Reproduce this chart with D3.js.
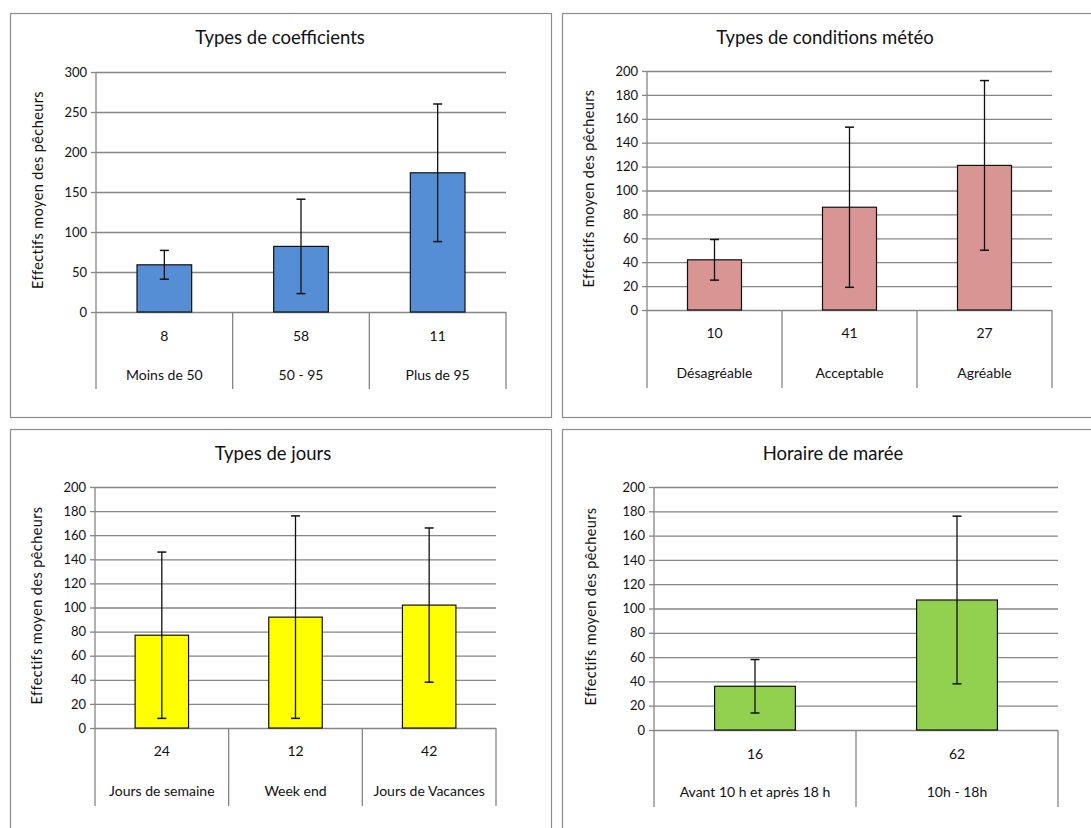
<!DOCTYPE html>
<html>
<head>
<meta charset="utf-8">
<script src="https://cdn.jsdelivr.net/npm/d3@7"></script>
<style>
  body { margin: 0; background: #fff; overflow: hidden; }
  text { font-family: Lato, "Open Sans", sans-serif; fill: #111; }
</style>
</head>
<body>
<script>
// données
var coefCategories = ["Moins de 50", "50 - 95", "Plus de 95"];
var coefCounts = [8, 58, 11];
var coefMeans = [59, 82, 174];
var coefErrors = [18, 59, 86];

var meteoCategories = ["Désagréable", "Acceptable", "Agréable"];
var meteoCounts = [10, 41, 27];
var meteoMeans = [42, 86, 121];
var meteoErrors = [17, 67, 71];

var joursCategories = ["Jours de semaine", "Week end", "Jours de Vacances"];
var joursCounts = [24, 12, 42];
var joursMeans = [77, 92, 102];
var joursErrors = [69, 84, 64];

var mareeCategories = ["Avant 10 h et après 18 h", "10h - 18h"];
var mareeCounts = [16, 62];
var mareeMeans = [36, 107];
var mareeErrors = [22, 69];

var chartTitles = ["Types de coefficients", "Types de conditions météo", "Types de jours", "Horaire de marée"];
var yMaxes = [300, 200, 200, 200];
var yTickSteps = [50, 20, 20, 20];
var yLabel = "Effectifs moyen des pêcheurs";

var W = 1091, H = 828;
var svg = d3.select("body").append("svg")
  .attr("width", W)
  .attr("height", H);

// mise en page des 4 panneaux (les cadres de droite et du bas sortent de l'image)
var panels = [
  {cats: coefCategories, counts: coefCounts, means: coefMeans, errs: coefErrors, color: "#558ed5",
   box: [10, 13, 541, 404], left: 96, right: 506, top: 72, bottom: 312, boxBottom: 389,
   titleX: 280, titleY: 39, axisX: 39, numY: 337, nameY: 376},
  {cats: meteoCategories, counts: meteoCounts, means: meteoMeans, errs: meteoErrors, color: "#d99594",
   box: [562, 13, 560, 404], left: 647, right: 1052, top: 71, bottom: 310, boxBottom: 388,
   titleX: 825, titleY: 39, axisX: 590, numY: 334, nameY: 374},
  {cats: joursCategories, counts: joursCounts, means: joursMeans, errs: joursErrors, color: "#ffff00",
   box: [10, 429, 541, 420], left: 95, right: 496, top: 487, bottom: 728, boxBottom: 806,
   titleX: 273, titleY: 455, axisX: 38, numY: 752, nameY: 792},
  {cats: mareeCategories, counts: mareeCounts, means: mareeMeans, errs: mareeErrors, color: "#92d050",
   box: [562, 429, 560, 420], left: 654, right: 1058, top: 487, bottom: 730, boxBottom: 807,
   titleX: 833, titleY: 455, axisX: 592, numY: 755, nameY: 793}
];

var grid = "#868686";

panels.forEach(function(p, k) {
  var g = svg.append("g");

  g.append("rect")
    .attr("x", p.box[0] + 0.5).attr("y", p.box[1] + 0.5)
    .attr("width", p.box[2]).attr("height", p.box[3])
    .attr("fill", "#fff").attr("stroke", "#8c8c8c").attr("stroke-width", 1.2);

  g.append("text")
    .attr("x", p.titleX)
    .attr("y", p.titleY)
    .attr("text-anchor", "middle")
    .attr("dominant-baseline", "middle")
    .style("font-size", "18.5px")
    .text(chartTitles[k]);

  var y = d3.scaleLinear().domain([0, yMaxes[k]]).range([p.bottom, p.top]);
  var x = d3.scaleBand().domain(p.cats).range([p.left, p.right]).padding(0);
  var ticks = d3.range(0, yMaxes[k] + 1, yTickSteps[k]);

  // grille + axe y
  var yAxis = d3.axisLeft(y)
    .tickValues(ticks)
    .tickSize(-(p.right - p.left))
    .tickPadding(9)
    .tickFormat(d3.format("d"));
  var ya = g.append("g")
    .attr("transform", "translate(" + p.left + ",0)")
    .call(yAxis);
  ya.select(".domain").remove();
  ya.selectAll(".tick line").attr("stroke", grid).attr("stroke-width", 1.3);
  ya.selectAll(".tick").append("line")
    .attr("x1", -5).attr("x2", 0).attr("stroke", grid).attr("stroke-width", 1.3);
  ya.selectAll(".tick text")
    .style("font-size", "13px")
    .style("font-family", "Lato, sans-serif")
    .attr("fill", "#111");

  // ligne verticale de l'axe et séparateurs de catégories
  g.append("line")
    .attr("x1", p.left).attr("x2", p.left)
    .attr("y1", p.top).attr("y2", p.boxBottom)
    .attr("stroke", grid).attr("stroke-width", 1.3);
  g.selectAll("line.sep").data(p.cats).enter().append("line")
    .attr("class", "sep")
    .attr("x1", function(d) { return x(d) + x.bandwidth(); })
    .attr("x2", function(d) { return x(d) + x.bandwidth(); })
    .attr("y1", p.bottom).attr("y2", p.boxBottom)
    .attr("stroke", grid).attr("stroke-width", 1.3);

  var bw = x.bandwidth() * 0.4;

  g.selectAll("rect.bar").data(p.means).enter().append("rect")
    .attr("class", "bar")
    .attr("x", function(d, i) { return x(p.cats[i]) + x.bandwidth() / 2 - bw / 2; })
    .attr("y", function(d) { return y(d); })
    .attr("width", bw)
    .attr("height", function(d) { return p.bottom - y(d); })
    .attr("fill", p.color)
    .attr("stroke", "#111")
    .attr("stroke-width", 1.2);

  // barres d'erreur
  var eg = g.selectAll("g.err").data(p.means).enter().append("g").attr("class", "err");
  eg.append("line")
    .attr("x1", function(d, i) { return x(p.cats[i]) + x.bandwidth() / 2; })
    .attr("x2", function(d, i) { return x(p.cats[i]) + x.bandwidth() / 2; })
    .attr("y1", function(d, i) { return y(d + p.errs[i]); })
    .attr("y2", function(d, i) { return y(d - p.errs[i]); })
    .attr("stroke", "#111").attr("stroke-width", 1.3);
  [1, -1].forEach(function(s) {
    eg.append("line")
      .attr("x1", function(d, i) { return x(p.cats[i]) + x.bandwidth() / 2 - 4.5; })
      .attr("x2", function(d, i) { return x(p.cats[i]) + x.bandwidth() / 2 + 4.5; })
      .attr("y1", function(d, i) { return y(d + s * p.errs[i]); })
      .attr("y2", function(d, i) { return y(d + s * p.errs[i]); })
      .attr("stroke", "#111").attr("stroke-width", 1.5);
  });

  // effectifs et noms de catégories
  g.selectAll("text.cnt").data(p.counts).enter().append("text")
    .attr("class", "cnt")
    .attr("x", function(d, i) { return x(p.cats[i]) + x.bandwidth() / 2; })
    .attr("y", p.numY)
    .attr("text-anchor", "middle")
    .attr("dominant-baseline", "middle")
    .style("font-size", "14px")
    .text(function(d) { return d; });
  g.selectAll("text.cat").data(p.cats).enter().append("text")
    .attr("class", "cat")
    .attr("x", function(d) { return x(d) + x.bandwidth() / 2; })
    .attr("y", p.nameY)
    .attr("text-anchor", "middle")
    .attr("dominant-baseline", "middle")
    .style("font-size", "14px")
    .text(function(d) { return d; });

  g.append("text")
    .attr("transform", "translate(" + p.axisX + "," + ((p.top + p.bottom) / 2 - 2) + ") rotate(-90)")
    .attr("text-anchor", "middle")
    .attr("dominant-baseline", "middle")
    .style("font-size", "14.5px")
    .style("letter-spacing", "0.4px")
    .text(yLabel);
});
</script>
</body>
</html>
